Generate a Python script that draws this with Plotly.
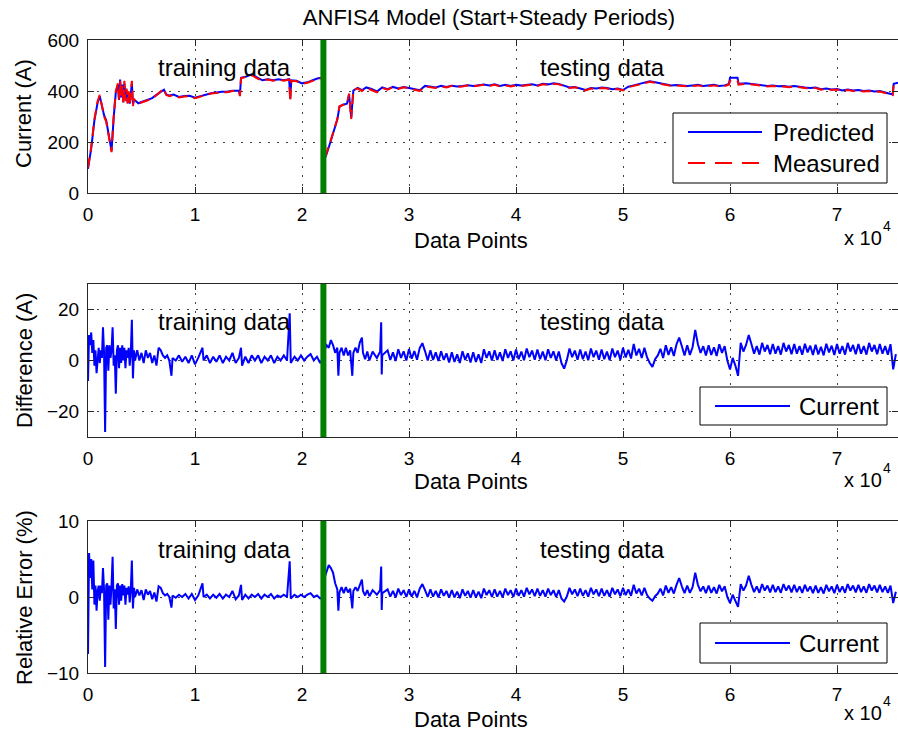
import plotly.graph_objects as go

# ---------------- data ----------------
split_point = 22000  # end of training data / start of testing data

x_current = [
    0, 300, 600, 900, 1100, 1300, 1500, 1700, 1900, 2100,
    2200, 2400, 2600, 2800, 2900, 3000, 3100, 3200, 3300, 3400,
    3500, 3600, 3700, 3800, 3900, 4000, 4100, 4200, 4300, 4500,
    4700, 5000, 5300, 5600, 6000, 6300, 6600, 6900, 7100, 7300,
    7600, 8000, 8500, 9000, 9500, 10000, 10500, 11000, 11500, 12000,
    12500, 13000, 13500, 14100, 14200, 14300, 14800, 15300, 15800, 16300,
    16800, 17300, 17800, 18300, 18800, 18900, 19000, 19500, 20000, 20500,
    21000, 21500, 21900,
    22200, 22600, 23000, 23300, 23500, 23800, 24200, 24400, 24600, 24800,
    25200, 25600, 26000, 26500, 27000, 27500, 28000, 28500, 29000, 29500,
    30000, 30500, 31000, 31500, 32000, 32500, 33000, 33500, 34000, 34500,
    35000, 35500, 36000, 36500, 37000, 37500, 38000, 38500, 39000, 39500,
    40000, 40500, 41000, 41500, 42000, 42500, 43000, 43500, 44000, 44500,
    45000, 45500, 46000, 46500, 47000, 47500, 48000, 48500, 49000, 49500,
    50000, 50500, 51000, 51500, 52000, 52500, 53000, 53500, 54000, 54500,
    55000, 55500, 56000, 56500, 57000, 57500, 58000, 58500, 59000, 59500,
    59900, 60000, 60700, 60800, 61500, 62000, 62500, 63000, 63500, 64000,
    64500, 65000, 65500, 66000, 66500, 67000, 67500, 68000, 68500, 69000,
    69500, 70000, 70500, 71000, 71500, 72000, 72500, 73000, 73500, 74000,
    74500, 75000, 75200, 75300, 75700,
]
measured = [
    100, 180, 290, 360, 385, 340, 300, 280, 230, 175,
    160, 300, 400, 430, 360, 440, 380, 420, 350, 440,
    360, 410, 350, 400, 345, 395, 440, 340, 370, 355,
    350, 355, 360, 365, 370, 380, 390, 400, 410, 385,
    380, 385, 375, 378, 380, 372, 378, 385, 390, 392,
    396, 395, 400, 400, 380, 450, 455, 462, 450, 440,
    445, 440, 445, 440, 445, 360, 440, 438, 428, 432,
    440, 448, 450,
    145, 195, 250, 290, 340, 345, 348, 390, 290, 405,
    410, 400, 412, 405, 395, 412, 405, 415, 408, 415,
    410, 405, 400, 418, 415, 412, 418, 414, 420, 416,
    418, 422, 418, 420, 424, 420, 424, 418, 422, 418,
    422, 420, 422, 425, 420, 426, 424, 428, 426, 418,
    412, 415, 408, 402, 410, 408, 412, 410, 405, 408,
    402, 415, 420, 425, 430, 436, 432, 428, 425, 420,
    422, 420, 418, 420, 422, 418, 420, 422, 418, 420,
    425, 440, 440, 425, 428, 425, 422, 420, 418, 420,
    417, 418, 415, 418, 414, 412, 410, 412, 405, 408,
    404, 406, 400, 404, 400, 402, 398, 400, 396, 398,
    392, 388, 384, 425, 430,
]
predicted = [
    95, 175, 285, 355, 380, 345, 305, 285, 240, 180,
    165, 295, 395, 425, 365, 445, 375, 425, 355, 430,
    370, 405, 355, 395, 350, 390, 430, 350, 365, 360,
    352, 357, 362, 367, 372, 382, 392, 402, 405, 387,
    382, 386, 377, 380, 381, 374, 380, 387, 391, 394,
    397, 397, 401, 402, 385, 452, 457, 465, 452, 442,
    446, 442, 446, 442, 446, 370, 442, 440, 430, 434,
    442, 450, 452,
    140, 192, 248, 288, 338, 346, 350, 385, 295, 402,
    412, 403, 414, 408, 398, 414, 407, 416, 410, 416,
    412, 407, 403, 420, 416, 414, 420, 416, 421, 418,
    420, 423, 420, 422, 425, 422, 426, 420, 424, 420,
    424, 422, 424, 426, 422, 428, 426, 430, 428, 420,
    414, 416, 410, 404, 412, 410, 414, 412, 407, 410,
    404, 417, 422, 428, 432, 438, 434, 430, 427, 422,
    424, 422, 420, 422, 424, 420, 422, 424, 420, 422,
    428, 452, 452, 428, 430, 427, 424, 422, 420, 422,
    419, 420, 417, 420, 416, 414, 412, 414, 407, 410,
    406, 408, 402, 406, 402, 404, 400, 402, 398, 400,
    394, 390, 386, 428, 432,
]

# difference / relative error samples
x_err = [
    0, 100, 200, 300, 400, 500, 600, 700, 800, 900,
    1000, 1100, 1200, 1300, 1400, 1500, 1600, 1700, 1800, 1900,
    2000, 2100, 2200, 2300, 2400, 2500, 2600, 2700, 2800, 2900,
    3000, 3100, 3200, 3300, 3400, 3500, 3600, 3700, 3800, 3900,
    4000, 4100, 4200, 4300, 4400, 4600, 4800, 5000, 5200, 5400,
    5600, 5800, 6000, 6200, 6400, 6600, 6800, 7000, 7200, 7400,
    7600, 7800, 7900, 8200, 8500, 8800, 9100, 9400, 9700, 10000,
    10300, 10700, 10800, 11100, 11400, 11700, 12000, 12300, 12600, 12900,
    13200, 13500, 13800, 14100, 14300, 14400, 14700, 15000, 15300, 15600,
    15900, 16200, 16500, 16800, 17100, 17400, 17700, 18000, 18300, 18600,
    18850, 18950, 19300, 19600, 19900, 20200, 20500, 20800, 21100, 21400,
    21700, 21900,
    22100, 22300, 22500, 22700, 22900, 23100, 23300, 23400, 23500, 23700,
    23900, 24100, 24300, 24500, 24700, 24800, 25000, 25200, 25400, 25600,
    25700, 25900, 26100, 26300, 26600, 27000, 27300, 27400, 27450, 27500,
    28000, 28250, 28500, 28750, 29000, 29250, 29500, 29750,
    30000, 30250, 30500, 30750, 31000, 31250, 31500, 31750,
    32000, 32250, 32500, 32750, 33000, 33250, 33500, 33750,
    34000, 34250, 34500, 34750, 35000, 35250, 35500, 35750,
    36000, 36250, 36500, 36750, 37000, 37250, 37500, 37750,
    38000, 38250, 38500, 38750, 39000, 39250, 39500, 39750,
    40000, 40250, 40500, 40750, 41000, 41250, 41500, 41750,
    42000, 42250, 42500, 42750, 43000, 43250, 43500, 43750,
    44000, 44250, 44500, 44750, 45000, 45250, 45500, 45750,
    46000, 46250, 46500, 46750, 47000, 47250, 47500, 47750,
    48000, 48250, 48500, 48750, 49000, 49250, 49500, 49750,
    50000, 50250, 50500, 50750, 51000, 51250, 51500, 51750,
    52000, 52250, 52500, 52750, 53000, 53250, 53500, 53750,
    54000, 54250, 54500, 54750, 55000, 55250, 55500, 55750,
    56000, 56250, 56500, 56750, 57000, 57250, 57500, 57750,
    58000, 58250, 58500, 58750, 59000, 59250, 59500, 59750,
    60000, 60250, 60500, 60750, 61000, 61250, 61500, 61750,
    62000, 62250, 62500, 62750, 63000, 63250, 63500, 63750,
    64000, 64250, 64500, 64750, 65000, 65250, 65500, 65750,
    66000, 66250, 66500, 66750, 67000, 67250, 67500, 67750,
    68000, 68250, 68500, 68750, 69000, 69250, 69500, 69750,
    70000, 70250, 70500, 70750, 71000, 71250, 71500, 71750,
    72000, 72250, 72500, 72750, 73000, 73250, 73500, 73750,
    74000, 74250, 74500, 74750, 75000, 75250, 75500,
]
diff_vals = [
    -8, 10, 6, 11, 3, 8, -2, 4, -5, 2,
    5, -1, 4, 1, 13, 3, -28, 5, 6, -4,
    6, 1, 4, 13, -2, 2, -13, 4, 6, -3,
    5, -1, 6, 0, 5, -3, 4, 1, 5, -2,
    3, 16, -7, 4, 0, 4, 0, 3, -1, 4,
    1, 3, -1, 2, -2, 5, 4, 2, 1, 2,
    0, -6, 1, 0, 2, -0.5, 1.5, -1, 2, -1.5,
    1, 5, 0, 2, -1, 1.5, -0.5, 2, -1, 1.5,
    0, 3, -1, 1, 5, -2, 1.5, -1, 2, 0,
    2, -1, 1.5, 0, 2, -1, 1.5, 0, 2, 0,
    18.5, -1, 1.5, 0, 2, 0, 1.5, 2.5, 0, 1.5,
    -1, 0.5,
    4, 6, 5, 8, 6, 3, 5, -6, 3, 5,
    2, 5, 2, 4, -6, 3, 5, 3, 7, 9,
    3, 0.5, 3.5, 0, 3.5, 1, 3.5, 15, -5.5, 2,
    4.0, 0.2, 3.2, -0.2, 4.4, 1.0, 3.6, 0.0,
    4.5, 0.7, 3.7, 0.3, 4.9, 6.8, 3.6, 0.0,
    4.0, 0.2, 3.2, -0.2, 3.6, 0.2, 2.8, -0.8,
    3.2, -0.6, 2.4, -1.0, 3.6, 0.2, 2.8, -0.8,
    3.2, -0.6, 2.4, -1.0, 4.4, 1.0, 3.6, 0.0,
    4.0, 0.2, 3.2, -0.2, 4.4, 1.0, 3.6, 0.0,
    4.3, 0.5, 3.5, 0.1, 4.7, 1.3, 3.9, 0.3,
    4.3, 0.5, 3.5, 0.1, 4.4, 1.0, 3.6, 0.0,
    3.5, -1.0, -3.2, 0.1, 4.7, 1.3, 3.9, 0.3,
    4.3, 0.5, 3.5, 0.1, 4.7, 1.3, 3.9, 0.3,
    4.3, 0.5, 3.5, 0.1, 4.7, 1.3, 3.9, 0.3,
    5.0, 1.2, 4.2, 0.8, 6.5, 2.0, 4.6, 1.0,
    5.0, 1.2, -1.0, -2.5, 0.5, 2.0, 4.6, 1.0,
    6.0, 2.2, 5.2, 1.8, 6.4, 9.0, 5.6, 2.0,
    6.0, 2.2, 5.2, 12.0, 6.4, 3.0, 5.6, 2.0,
    6.0, 2.2, 5.2, 1.8, 6.4, 3.0, 5.6, 0.0,
    -3.5, 1.0, -2.0, -6.0, 6.9, 3.5, 6.1, 10.0,
    6.5, 2.7, 5.7, 2.3, 6.9, 3.5, 6.1, 2.5,
    6.5, 2.7, 5.7, 2.3, 6.9, 3.5, 6.1, 2.5,
    6.5, 2.7, 5.7, 2.3, 6.6, 3.2, 5.8, 2.2,
    6.2, 2.4, 5.4, 2.0, 6.6, 3.2, 5.8, 2.2,
    6.5, 2.7, 5.7, 2.3, 6.9, 3.5, 6.1, 2.5,
    6.5, 2.7, 5.7, 2.3, 6.9, 3.5, 6.1, 2.5,
    6.5, 2.7, 5.7, 2.3, 6.4, -3.5, 2.5,
]
relerr_vals = [
    -7.5, 5.8, 2.5, 5.0, 1.0, 4.8, -1.0, 1.5, -1.8, 0.8,
    1.5, -0.5, 1.5, 0.5, 3.8, 1.0, -9.2, 1.5, 1.8, -3.0,
    1.5, -1.0, 1.5, 5.3, -1.5, 1.0, -4.2, 1.5, 1.8, -1.0,
    1.5, -0.5, 1.7, 0.2, 1.5, -1.0, 1.2, 0.3, 1.4, -0.7,
    1.0, 4.8, -1.5, 1.2, 0.0, 1.0, 0.2, 0.9, -0.4, 1.0,
    0.3, 0.8, -0.3, 0.6, -0.6, 1.4, 1.2, 0.5, 0.2, 0.4,
    0.0, -1.4, 0.2, -0.1, 0.3, 0.0, 0.4, -0.2, 0.4, -0.4,
    0.2, 1.8, 0.0, 0.3, -0.2, 0.3, -0.1, 0.4, -0.2, 0.3,
    0.0, 0.8, -0.3, 0.2, 1.6, -0.4, 0.3, -0.2, 0.3, 0.0,
    0.4, -0.2, 0.3, 0.0, 0.4, -0.2, 0.2, 0.0, 0.3, 0.0,
    4.7, -0.2, 0.3, 0.0, 0.3, 0.0, 0.3, 0.5, 0.0, 0.2,
    -0.2, 0.0,
    2.5, 3.5, 4.2, 3.8, 3.2, 1.8, 1.0, -1.8, 0.6, 1.3,
    0.5, 1.3, 0.6, 1.1, -1.5, 0.8, 1.3, 0.8, 1.7, 2.3,
    0.8, 0.2, 0.9, 0.1, 0.9, 0.3, 0.9, 4.0, -1.7, 0.5,
    1.0, 0.05, 0.8, -0.05, 1.1, 0.25, 0.9, 0.0,
    1.0, 0.05, 0.8, -0.05, 1.1, 1.7, 0.9, 0.0,
    1.0, 0.05, 0.8, -0.05, 1.0, 0.15, 0.8, -0.1,
    0.9, -0.05, 0.7, -0.15, 1.0, 0.15, 0.8, -0.1,
    0.9, -0.05, 0.7, -0.15, 1.1, 0.25, 0.9, 0.0,
    1.0, 0.05, 0.8, -0.05, 1.1, 0.25, 0.9, 0.0,
    1.1, 0.15, 0.9, 0.05, 1.2, 0.35, 1.0, 0.1,
    1.1, 0.15, 0.9, 0.05, 1.1, 0.25, 0.9, 0.0,
    0.9, -0.2, -0.6, 0.05, 1.2, 0.35, 1.0, 0.1,
    1.1, 0.15, 0.9, 0.05, 1.2, 0.35, 1.0, 0.1,
    1.1, 0.15, 0.9, 0.05, 1.2, 0.35, 1.0, 0.1,
    1.2, 0.25, 1.0, 0.15, 1.6, 0.45, 1.1, 0.2,
    1.2, 0.25, -0.2, -0.5, 0.1, 0.45, 1.1, 0.2,
    1.5, 0.55, 1.3, 0.45, 1.6, 2.5, 1.4, 0.5,
    1.5, 0.55, 1.3, 3.2, 1.6, 0.75, 1.4, 0.5,
    1.5, 0.55, 1.3, 0.45, 1.6, 0.75, 1.4, 0.0,
    -0.8, 0.3, -0.5, -1.3, 1.7, 0.85, 1.5, 2.8,
    1.6, 0.65, 1.4, 0.55, 1.7, 0.85, 1.5, 0.6,
    1.6, 0.65, 1.4, 0.55, 1.7, 0.85, 1.5, 0.6,
    1.6, 0.65, 1.4, 0.55, 1.6, 0.75, 1.4, 0.5,
    1.5, 0.55, 1.3, 0.45, 1.6, 0.75, 1.4, 0.5,
    1.6, 0.65, 1.4, 0.55, 1.7, 0.85, 1.5, 0.6,
    1.6, 0.65, 1.4, 0.55, 1.7, 0.85, 1.5, 0.6,
    1.6, 0.65, 1.4, 0.55, 1.5, -0.8, 0.7,
]
assert len(x_current) == len(measured) == len(predicted)
assert len(x_err) == len(diff_vals) == len(relerr_vals), (
    len(x_err), len(diff_vals), len(relerr_vals))

x_tick_vals = [0, 10000, 20000, 30000, 40000, 50000, 60000, 70000]
x_tick_text = ["0", "1", "2", "3", "4", "5", "6", "7"]
y1_ticks = [0, 200, 400, 600]
y2_ticks = [-20, 0, 20]
y3_ticks = [-10, 0, 10]

# ---------------- layout helpers ----------------
W, H = 898, 733
ML, MR, MT, MB = 88, 0, 40, 60
PW, PH = W - ML - MR, H - MT - MB
FONT = "Liberation Sans, Arial, Helvetica, sans-serif"


def pxx(px):
    return (px - ML) / PW


def pxy(py):
    return (H - MB - py) / PH


BLUE = "#0000ff"
RED = "#ff0000"
GREEN = "#008000"
AX = "#262626"

fig = go.Figure()
fig.add_trace(go.Scatter(x=x_current, y=predicted, mode="lines", name="Predicted",
                         line=dict(color=BLUE, width=2), xaxis="x", yaxis="y",
                         showlegend=False))
fig.add_trace(go.Scatter(x=x_current, y=measured, mode="lines", name="Measured",
                         line=dict(color=RED, width=2, dash="10px,6px"), xaxis="x",
                         yaxis="y", showlegend=False))
fig.add_trace(go.Scatter(x=x_err, y=diff_vals, mode="lines", name="Current",
                         line=dict(color=BLUE, width=2), xaxis="x2", yaxis="y2",
                         showlegend=False))
fig.add_trace(go.Scatter(x=x_err, y=relerr_vals, mode="lines", name="Current",
                         line=dict(color=BLUE, width=2), xaxis="x3", yaxis="y3",
                         showlegend=False))

xrange = [0, 75700]
common = dict(showline=True, linecolor=AX, linewidth=1, mirror="ticks",
              ticks="inside", ticklen=6, tickcolor=AX, showgrid=True,
              gridcolor="#444444", gridwidth=1, griddash="2px,7px", zeroline=False,
              tickfont=dict(family=FONT, size=19, color="black"))

xcommon = dict(common, range=xrange, tickmode="array", tickvals=x_tick_vals,
               ticktext=x_tick_text, ticklabelstandoff=4)
ycommon = dict(common, ticklabelstandoff=4)

domains = [
    [pxy(193), pxy(40)],
    [pxy(437), pxy(284)],
    [pxy(673), pxy(521)],
]

fig.update_layout(
    width=W, height=H,
    margin=dict(l=ML, r=MR, t=MT, b=MB),
    paper_bgcolor="white", plot_bgcolor="white",
    font=dict(family=FONT, color="black"),
    showlegend=False,
    title=dict(text="ANFIS4 Model (Start+Steady Periods)", xref="container",
               x=489 / W, xanchor="center", y=1 - 17 / H, yanchor="middle",
               font=dict(family=FONT, size=22, color="black")),
    xaxis=dict(xcommon, domain=[0, 1], anchor="y"),
    yaxis=dict(ycommon, domain=domains[0], anchor="x", range=[0, 600],
               tickmode="array", tickvals=y1_ticks),
    xaxis2=dict(xcommon, domain=[0, 1], anchor="y2"),
    yaxis2=dict(ycommon, domain=domains[1], anchor="x2", range=[-30, 30],
                tickmode="array", tickvals=y2_ticks),
    xaxis3=dict(xcommon, domain=[0, 1], anchor="y3"),
    yaxis3=dict(ycommon, domain=domains[2], anchor="x3", range=[-10, 10],
                tickmode="array", tickvals=y3_ticks),
)

shapes = []
annotations = []

# split line between training and testing data
for xa, ya in [("x", "y"), ("x2", "y2"), ("x3", "y3")]:
    shapes.append(dict(type="line", xref=xa, yref=ya + " domain", x0=split_point,
                       x1=split_point, y0=0, y1=1, line=dict(color=GREEN, width=6),
                       layer="above"))

# region labels
label_y = [(494, "y"), (15.2, "y2"), (6.2, "y3")]
for (yv, ya), xa in zip(label_y, ["x", "x2", "x3"]):
    annotations.append(dict(text="training data", x=12800, y=yv, xref=xa, yref=ya,
                            showarrow=False, xanchor="center", yanchor="middle",
                            font=dict(family=FONT, size=24, color="black")))
    annotations.append(dict(text="testing data", x=48100, y=yv, xref=xa, yref=ya,
                            showarrow=False, xanchor="center", yanchor="middle",
                            font=dict(family=FONT, size=24, color="black")))


def text_ann(text, px, py, size, xanchor="center", angle=0):
    return dict(text=text, x=pxx(px), y=pxy(py), xref="paper", yref="paper",
                showarrow=False, xanchor=xanchor, yanchor="middle", textangle=angle,
                font=dict(family=FONT, size=size, color="black"))


# axis titles and the x10^4 exponent labels
for py in [241, 481, 719]:
    annotations.append(text_ann("Data Points", 471, py, 22))
for py in [238, 480, 713]:
    annotations.append(text_ann("x 10", 884, py, 20, xanchor="right"))
    annotations.append(text_ann("4", 881, py - 12, 14, xanchor="left"))
for text, py in [("Current (A)", 114), ("Difference (A)", 361),
                 ("Relative Error (%)", 598)]:
    annotations.append(text_ann(text, 24, py, 22, angle=-90))

# legends (drawn as boxes with sample lines)
shapes.append(dict(type="rect", xref="paper", yref="paper", x0=pxx(673), x1=pxx(887),
                   y0=pxy(183), y1=pxy(113), line=dict(color="black", width=1),
                   fillcolor="white", layer="above"))
shapes.append(dict(type="line", xref="paper", yref="paper", x0=pxx(688), x1=pxx(762),
                   y0=pxy(132), y1=pxy(132), line=dict(color=BLUE, width=2),
                   layer="above"))
shapes.append(dict(type="line", xref="paper", yref="paper", x0=pxx(688), x1=pxx(762),
                   y0=pxy(163), y1=pxy(163), line=dict(color=RED, width=2,
                                                        dash="17px,10px"),
                   layer="above"))
annotations.append(text_ann("Predicted", 771, 132, 24, xanchor="left"))
annotations.append(text_ann("Measured", 771, 163, 24, xanchor="left"))

for top, bot, mid in [(387, 425, 406), (623, 663, 643)]:
    shapes.append(dict(type="rect", xref="paper", yref="paper", x0=pxx(700),
                       x1=pxx(887), y0=pxy(bot), y1=pxy(top),
                       line=dict(color="black", width=1), fillcolor="white",
                       layer="above"))
    shapes.append(dict(type="line", xref="paper", yref="paper", x0=pxx(715),
                       x1=pxx(790), y0=pxy(mid), y1=pxy(mid),
                       line=dict(color=BLUE, width=2), layer="above"))
    annotations.append(text_ann("Current", 797, mid, 24, xanchor="left"))

fig.update_layout(shapes=shapes, annotations=annotations)
fig.write_html("out.html")
